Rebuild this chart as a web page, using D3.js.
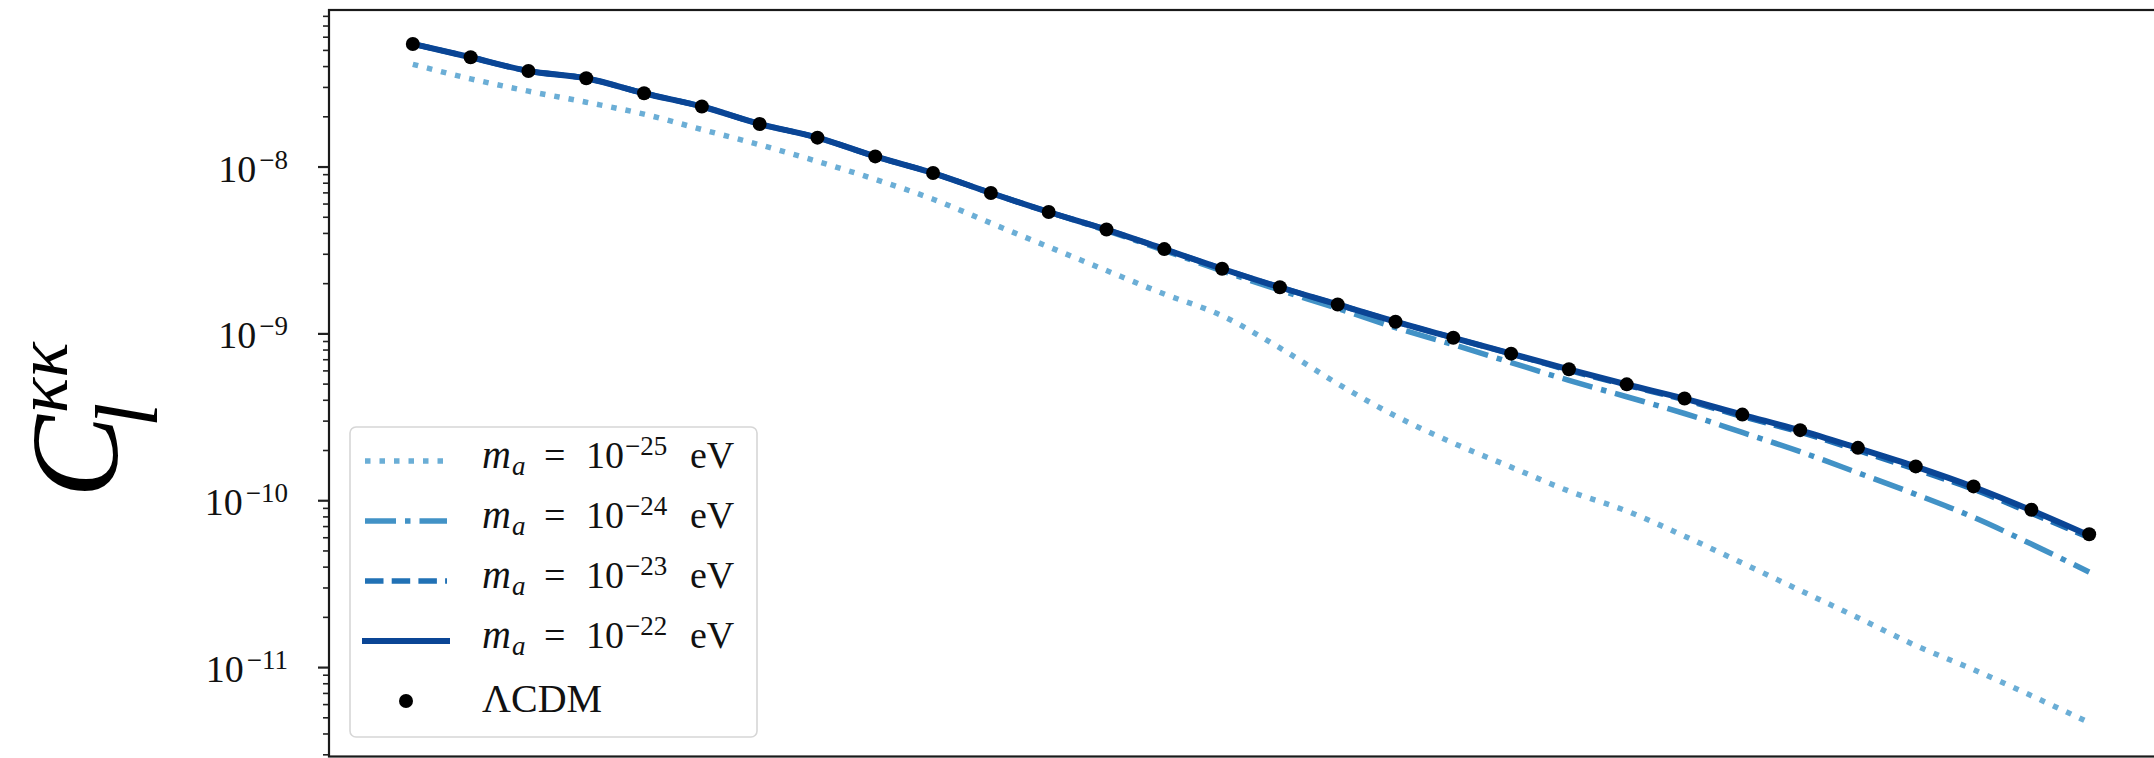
<!DOCTYPE html>
<html>
<head>
<meta charset="utf-8">
<script src="https://cdn.jsdelivr.net/npm/d3@7"></script>
<style>
  html, body { margin: 0; padding: 0; background: #fff; }
  svg { display: block; }
</style>
</head>
<body>
<svg id="chart" width="2154" height="758"></svg>
<script>
// ---------------- data ----------------
const ells = [1,2,3,4,5,6,7,8,9,10,11,12,13,14,15,16,17,18,19,20,21,22,23,24,25,26,27,28,29,30];

const lcdm = [5.43e-8, 4.52e-8, 3.74e-8, 3.38e-8, 2.75e-8, 2.29e-8, 1.80e-8, 1.49e-8, 1.15e-8, 9.14e-9,
              6.94e-9, 5.34e-9, 4.19e-9, 3.20e-9, 2.44e-9, 1.89e-9, 1.49e-9, 1.175e-9, 9.42e-10, 7.56e-10,
              6.09e-10, 4.95e-10, 4.07e-10, 3.26e-10, 2.63e-10, 2.06e-10, 1.595e-10, 1.21e-10, 8.77e-11, 6.25e-11];

const m22 = [5.43e-8, 4.52e-8, 3.74e-8, 3.38e-8, 2.75e-8, 2.29e-8, 1.80e-8, 1.49e-8, 1.15e-8, 9.14e-9,
             6.94e-9, 5.34e-9, 4.19e-9, 3.20e-9, 2.44e-9, 1.89e-9, 1.49e-9, 1.175e-9, 9.42e-10, 7.56e-10,
             6.08e-10, 4.94e-10, 4.06e-10, 3.25e-10, 2.62e-10, 2.05e-10, 1.59e-10, 1.20e-10, 8.70e-11, 6.15e-11];

const m23 = [5.43e-8, 4.52e-8, 3.74e-8, 3.38e-8, 2.75e-8, 2.29e-8, 1.80e-8, 1.49e-8, 1.15e-8, 9.14e-9,
             6.94e-9, 5.34e-9, 4.19e-9, 3.20e-9, 2.44e-9, 1.89e-9, 1.49e-9, 1.175e-9, 9.40e-10, 7.54e-10,
             6.01e-10, 4.89e-10, 3.99e-10, 3.175e-10, 2.557e-10, 1.99e-10, 1.53e-10, 1.162e-10, 8.36e-11, 5.96e-11];

const m24 = [5.43e-8, 4.52e-8, 3.74e-8, 3.38e-8, 2.75e-8, 2.29e-8, 1.80e-8, 1.49e-8, 1.15e-8, 9.14e-9,
             6.94e-9, 5.34e-9, 4.13e-9, 3.14e-9, 2.37e-9, 1.815e-9, 1.41e-9, 1.082e-9, 8.56e-10, 6.68e-10,
             5.23e-10, 4.17e-10, 3.31e-10, 2.55e-10, 1.955e-10, 1.46e-10, 1.085e-10, 7.90e-11, 5.46e-11, 3.71e-11];

const m25 = [4.10e-8, 3.355e-8, 2.83e-8, 2.43e-8, 2.06e-8, 1.667e-8, 1.35e-8, 1.073e-8, 8.38e-9, 6.37e-9,
             4.58e-9, 3.30e-9, 2.38e-9, 1.722e-9, 1.276e-9, 8.18e-10, 4.99e-10, 3.20e-10, 2.20e-10, 1.58e-10,
             1.135e-10, 8.62e-11, 6.09e-11, 4.20e-11, 2.88e-11, 1.977e-11, 1.346e-11, 9.65e-12, 6.74e-12, 4.65e-12];

const seriesNames = ["m25", "m24", "m23", "m22"];
const seriesExp   = ["\u221225", "\u221224", "\u221223", "\u221222"];
const tickExps    = [-8, -9, -10, -11];
const tickLabels  = ["\u22128", "\u22129", "\u221210", "\u221211"];

// ---------------- styles ----------------
const styles = {
  m25: { color: "#6baed6", dash: "5.5 9",          width: 5.5 },
  m24: { color: "#4292c6", dash: "31 9 5.5 9",     width: 5.5 },
  m23: { color: "#2171b5", dash: "18.5 8.2",       width: 5.5 },
  m22: { color: "#0a4595", dash: null,             width: 6 }
};
const dataBy = { m25, m24, m23, m22 };

// ---------------- layout ----------------
const axLeft = 329, axRight = 2173, axTop = 10, axBottom = 756.5;
const FONT = "'Liberation Serif', 'DejaVu Serif', serif";

const svg = d3.select("#chart");

// x: linear with 5% margins (matplotlib-style)
const xPad = 0.05 * (ells[ells.length - 1] - ells[0]);
const x = d3.scaleLinear()
  .domain([ells[0] - xPad, ells[ells.length - 1] + xPad])
  .range([axLeft, axRight]);

// y: log with 5% margins in log space
const allVals = [].concat(lcdm, m22, m23, m24, m25);
const lmax = Math.log10(d3.max(allVals)), lmin = Math.log10(d3.min(allVals));
const lm = 0.05 * (lmax - lmin);
const y = d3.scaleLog()
  .domain([Math.pow(10, lmax + lm), Math.pow(10, lmin - lm)])
  .range([axTop, axBottom]);

// ---------------- axes ----------------
const [yHi, yLo] = y.domain();
const minorVals = [];
for (let k = -13; k <= -6; k++) {
  for (let m = 2; m <= 9; m++) {
    const v = m * Math.pow(10, k);
    if (v <= yHi && v >= yLo) minorVals.push(v);
  }
}
const majorVals = tickExps.map(e => Math.pow(10, e));

const gMinor = svg.append("g").attr("transform", `translate(${axLeft},0)`)
  .call(d3.axisLeft(y).tickValues(minorVals).tickSize(6).tickFormat(""));
gMinor.select(".domain").remove();
gMinor.selectAll(".tick line").attr("stroke", "#222").attr("stroke-width", 1.6);

const gMajor = svg.append("g").attr("transform", `translate(${axLeft},0)`)
  .call(d3.axisLeft(y).tickValues(majorVals).tickSize(11).tickFormat(""));
gMajor.select(".domain").remove();
gMajor.selectAll(".tick line").attr("stroke", "#222").attr("stroke-width", 2.2);

// major tick labels  10^{-n}
majorVals.forEach((v, i) => {
  const t = svg.append("text")
    .attr("x", 288).attr("y", y(v) + 15)
    .attr("text-anchor", "end")
    .attr("font-family", FONT).attr("font-size", 38).attr("fill", "#111");
  t.append("tspan").text("10");
  t.append("tspan").attr("font-size", 27).attr("dy", -13).attr("dx", 3).text(tickLabels[i]);
});

// ---------------- lines ----------------
const plot = svg.append("g");
seriesNames.forEach(name => {
  const vals = dataBy[name];
  const st = styles[name];
  const line = d3.line().x((d, i) => x(ells[i])).y(d => y(d)).curve(d3.curveMonotoneX);
  const p = plot.append("path")
    .attr("d", line(vals))
    .attr("fill", "none")
    .attr("stroke", st.color)
    .attr("stroke-width", st.width)
    .attr("stroke-linejoin", "round");
  if (st.dash) p.attr("stroke-dasharray", st.dash).attr("stroke-linecap", "butt");
  else p.attr("stroke-linecap", "square");
});

// LCDM points
plot.selectAll("circle.pt").data(lcdm).join("circle")
  .attr("class", "pt")
  .attr("cx", (d, i) => x(ells[i]))
  .attr("cy", d => y(d))
  .attr("r", 7)
  .attr("fill", "#000");

// ---------------- frame ----------------
svg.append("rect")
  .attr("x", axLeft).attr("y", axTop)
  .attr("width", axRight - axLeft).attr("height", axBottom - axTop)
  .attr("fill", "none").attr("stroke", "#1a1a1a").attr("stroke-width", 2.2);

// ---------------- legend ----------------
const lg = svg.append("g");
lg.append("rect")
  .attr("x", 350).attr("y", 427).attr("width", 407).attr("height", 310)
  .attr("rx", 6).attr("ry", 6)
  .attr("fill", "#fff").attr("fill-opacity", 0.85)
  .attr("stroke", "#d6d6d6").attr("stroke-width", 1.6);

const rowY0 = 461, rowStep = 60;
const legendOrder = ["m25", "m24", "m23", "m22"];
legendOrder.forEach((name, i) => {
  const st = styles[name];
  const ry = rowY0 + i * rowStep;
  const hl = lg.append("line")
    .attr("x1", 365).attr("x2", 447).attr("y1", ry).attr("y2", ry)
    .attr("stroke", st.color).attr("stroke-width", st.width);
  if (st.dash) hl.attr("stroke-dasharray", st.dash).attr("stroke-linecap", "butt");
  else hl.attr("stroke-linecap", "square");

  const tx = 482, ty = ry + 6.5;
  const t = lg.append("text").attr("y", ty)
    .attr("font-family", FONT).attr("font-size", 38).attr("fill", "#111");
  t.append("tspan").attr("x", tx).attr("font-style", "italic").attr("font-size", 40).text("m");
  t.append("tspan").attr("x", tx + 30).attr("dy", 7).attr("font-style", "italic").attr("font-size", 27).text("a");
  t.append("tspan").attr("x", tx + 62).attr("dy", -7).text("=");
  t.append("tspan").attr("x", tx + 104).text("10");
  t.append("tspan").attr("x", tx + 143).attr("dy", -13).attr("font-size", 27).text(seriesExp[i]);
  t.append("tspan").attr("x", tx + 208).attr("dy", 13).text("eV");
});
// LCDM entry
{
  const ry = rowY0 + 4 * rowStep;
  lg.append("circle").attr("cx", 406).attr("cy", ry).attr("r", 7).attr("fill", "#000");
  lg.append("text").attr("x", 482).attr("y", ry + 11)
    .attr("font-family", FONT).attr("font-size", 40).attr("fill", "#111")
    .text("\u039BCDM");
}

// ---------------- y label  C_l^{κκ} ----------------
const yl = svg.append("g").attr("transform", "translate(117,498) rotate(-90)");
const cText = yl.append("text").attr("x", 0).attr("y", 0)
  .attr("font-family", FONT).attr("font-style", "italic")
  .attr("font-size", 124).attr("fill", "#000").text("C");
const cw = cText.node().getComputedTextLength();
yl.append("text").attr("x", cw - 12).attr("y", 40)
  .attr("font-family", FONT).attr("font-style", "italic")
  .attr("font-size", 88).attr("fill", "#000").text("l");
yl.append("text").attr("x", cw + 2).attr("y", -50)
  .attr("font-family", FONT).attr("font-style", "italic")
  .attr("font-size", 74).attr("fill", "#000").text("\u03BA\u03BA");
</script>
</body>
</html>
